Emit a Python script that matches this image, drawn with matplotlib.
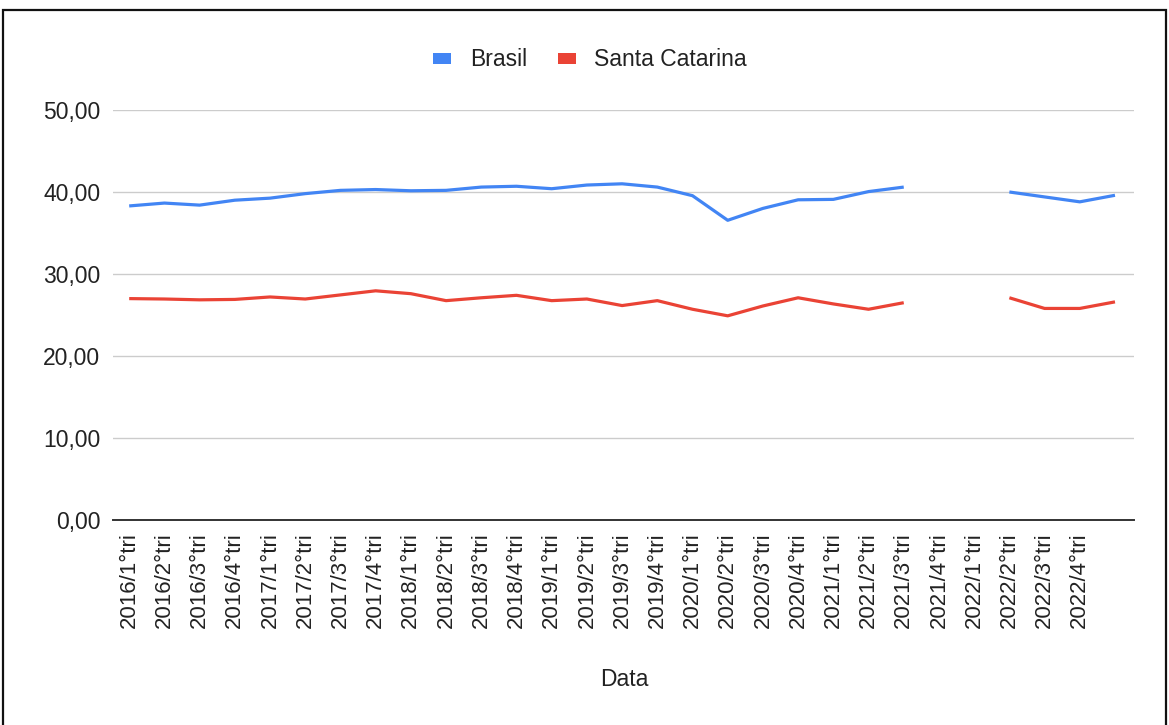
import numpy as np
import matplotlib
matplotlib.use("Agg")
import matplotlib.pyplot as plt
from matplotlib.patches import Patch, Rectangle

plt.rcParams['font.family'] = ['Liberation Sans', 'DejaVu Sans']

# Quarter labels (the last quarter carries no label on the axis)
quarters = [
    "2016/1°tri", "2016/2°tri", "2016/3°tri", "2016/4°tri",
    "2017/1°tri", "2017/2°tri", "2017/3°tri", "2017/4°tri",
    "2018/1°tri", "2018/2°tri", "2018/3°tri", "2018/4°tri",
    "2019/1°tri", "2019/2°tri", "2019/3°tri", "2019/4°tri",
    "2020/1°tri", "2020/2°tri", "2020/3°tri", "2020/4°tri",
    "2021/1°tri", "2021/2°tri", "2021/3°tri", "2021/4°tri",
    "2022/1°tri", "2022/2°tri", "2022/3°tri", "2022/4°tri",
    "",
]

nan = np.nan
brasil = [
    38.3, 38.65, 38.4, 39.0, 39.25, 39.8, 40.2, 40.3,
    40.15, 40.2, 40.6, 40.7, 40.4, 40.85, 41.0, 40.6,
    39.55, 36.55, 38.0, 39.05, 39.1, 40.05, 40.6, nan,
    nan, 40.0, 39.4, 38.8, 39.6,
]
santa_catarina = [
    27.0, 26.95, 26.85, 26.9, 27.2, 26.95, 27.45, 27.95,
    27.6, 26.75, 27.1, 27.4, 26.75, 26.95, 26.15, 26.75,
    25.7, 24.9, 26.1, 27.1, 26.35, 25.7, 26.5, nan,
    nan, 27.1, 25.8, 25.8, 26.6,
]

series_names = ["Brasil", "Santa Catarina"]
series_colors = ["#4285F4", "#EA4335"]
y_ticks = [0, 10, 20, 30, 40, 50]
x_title = "Data"

W, H = 1169, 725
fig = plt.figure(figsize=(W / 100, H / 100), dpi=100)
ax = fig.add_axes([113 / W, 1 - 520 / H, (1134 - 113) / W, (520 - 110) / H])

x = np.arange(len(quarters))
for vals, color in zip([brasil, santa_catarina], series_colors):
    ax.plot(x, np.array(vals, dtype=float), color=color, lw=2.3,
            solid_joinstyle="round", solid_capstyle="butt", zorder=3)

ax.set_xlim(-0.46, len(quarters) - 0.46)
ax.set_ylim(0, 50)
ax.set_yticks(y_ticks)
ax.set_yticklabels([f"{v:.2f}".replace(".", ",") for v in y_ticks],
                   fontsize=16.5, color="#222222")
ax.set_xticks(x)
ax.set_xticklabels(quarters, rotation=90, fontsize=16, color="#222222",
                   va="top", ha="center")
ax.tick_params(axis="both", length=0)
ax.tick_params(axis="y", pad=9)
ax.tick_params(axis="x", pad=9)

ax.grid(axis="y", color="#cccccc", lw=1.0, zorder=0)
ax.grid(axis="x", visible=False)
for side in ["top", "right", "left"]:
    ax.spines[side].set_visible(False)
ax.spines["bottom"].set_color("#333333")
ax.spines["bottom"].set_linewidth(1.4)
ax.spines["bottom"].set_zorder(4)

fig.text(624 / W, 1 - 680 / H, x_title, ha="center", va="center",
         fontsize=16.5, color="#222222")

handles = [Patch(facecolor=c, edgecolor="none", label=n)
           for n, c in zip(series_names, series_colors)]
fig.legend(handles=handles, loc="center", bbox_to_anchor=(590 / W, 1 - 60 / H),
           ncol=2, frameon=False, fontsize=16.5, handlelength=0.8,
           handleheight=0.4, handletextpad=0.8, columnspacing=1.35,
           labelcolor="#222222", borderpad=0.2)

# Outer frame around the chart area
fig.add_artist(Rectangle((3 / W, -0.05), (1166 - 3) / W, 1 - 10 / H + 0.05,
                         transform=fig.transFigure, fill=False,
                         edgecolor="#111111", lw=1.6))

fig.savefig("out.png", dpi=100, facecolor="white")
